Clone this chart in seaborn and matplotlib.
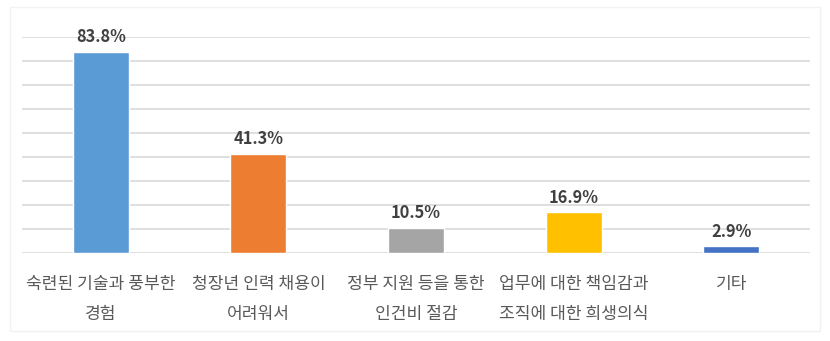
import matplotlib
matplotlib.use('Agg')
import matplotlib.pyplot as plt
import matplotlib.patches as mpatches
import pandas as pd
import seaborn as sns

categories = ['숙련된 기술과 풍부한\n경험', '청장년 인력 채용이\n어려워서',
              '정부 지원 등을 통한\n인건비 절감', '업무에 대한 책임감과\n조직에 대한 희생의식',
              '기타']
values = [83.8, 41.3, 10.5, 16.9, 2.9]
colors = ['#5B9BD5', '#ED7D31', '#A5A5A5', '#FFC000', '#4472C4']

sns.set_style('white')
plt.rcParams['font.family'] = ['Noto Sans CJK KR', 'DejaVu Sans']

df = pd.DataFrame({'cat': categories, 'val': values})

fig = plt.figure(figsize=(8.3, 3.41), dpi=100)
fig.patches.append(mpatches.Rectangle((0.012, 0.03), 0.976, 0.95, transform=fig.transFigure,
                                      fill=False, edgecolor='#F2F2F2', linewidth=1))
ax = fig.add_axes([0.0265, 0.258, 0.9495, 0.6335])

sns.barplot(data=df, x='cat', y='val', hue='cat', palette=colors, legend=False,
            width=0.355, saturation=1, ax=ax, zorder=3)

ax.set_ylim(0, 90)
ax.set_yticks(range(0, 91, 10))
ax.yaxis.grid(True, color='#D9D9D9', linewidth=1.2, zorder=0)
ax.set_yticklabels([])
ax.tick_params(axis='y', length=0)
ax.tick_params(axis='x', length=0, pad=16)
ax.set_xlabel('')
ax.set_ylabel('')
for s in ax.spines.values():
    s.set_visible(False)

for lbl in ax.get_xticklabels():
    lbl.set_fontsize(12.3)
    lbl.set_color('#595959')
    lbl.set_linespacing(1.85)

for c in ax.containers:
    ax.bar_label(c, labels=[f'{v:.1f}%' for v in c.datavalues], padding=4,
                 fontsize=11.8, fontweight='bold', color='#404040')

fig.savefig('out.png', dpi=100)
